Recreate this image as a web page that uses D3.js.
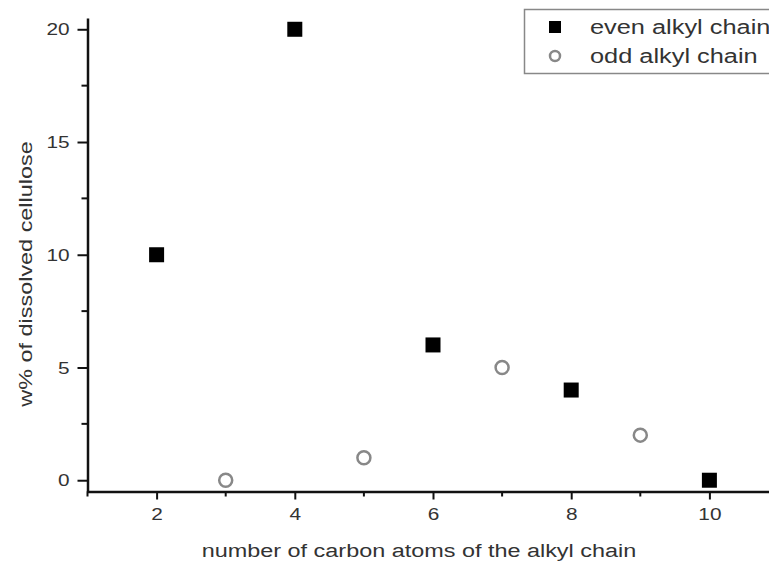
<!DOCTYPE html>
<html>
<head>
<meta charset="utf-8">
<script src="https://cdn.jsdelivr.net/npm/d3@7"></script>
<style>
  body { margin: 0; background: #fff; }
  text { font-family: "Liberation Sans", Arial, sans-serif; fill: #333; }
</style>
</head>
<body>
<div id="chart"></div>
<script>
// data
var evenCarbons = [2, 4, 6, 8, 10];
var evenValues = [10, 20, 6, 4, 0];
var oddCarbons = [3, 5, 7, 9];
var oddValues = [0, 1, 5, 2];
var xTicks = [2, 4, 6, 8, 10];
var yTicks = [0, 5, 10, 15, 20];
var legendLabels = ["even alkyl chain", "odd alkyl chain"];

var width = 769, height = 563;

// the scanned figure has its lettering a bit wide, so stretch glyphs
function stretch(sel, k) {
  sel.each(function() {
    var w = this.getComputedTextLength();
    d3.select(this)
      .attr("textLength", w * k)
      .attr("lengthAdjust", "spacingAndGlyphs");
  });
}

var svg = d3.select("#chart")
  .append("svg")
  .attr("width", width)
  .attr("height", height);

// x runs from 1 to 11, right end gets clipped by the picture
var x = d3.scaleLinear().domain([1, 11]).range([87.5, 778.5]);
var y = d3.scaleLinear().domain([-0.5, 20.5]).range([491.5, 18]);

// minor ticks
var xMinor = d3.range(1, 12, 1).filter(d => xTicks.indexOf(d) < 0);
var yMinor = d3.range(0, 21, 2.5).filter(d => yTicks.indexOf(d) < 0);

svg.append("g")
  .selectAll("line")
  .data(xMinor)
  .join("line")
  .attr("x1", d => x(d)).attr("x2", d => x(d))
  .attr("y1", y(-0.5)).attr("y2", y(-0.5) + 5)
  .attr("stroke", "#111").attr("stroke-width", 2);

svg.append("g")
  .selectAll("line")
  .data(yMinor)
  .join("line")
  .attr("y1", d => y(d)).attr("y2", d => y(d))
  .attr("x1", x(1)).attr("x2", x(1) - 6)
  .attr("stroke", "#111").attr("stroke-width", 2);

// axes
var xAxis = svg.append("g")
  .attr("transform", "translate(0," + y(-0.5) + ")")
  .call(d3.axisBottom(x).tickValues(xTicks).tickSize(8).tickPadding(9).tickSizeOuter(0));

var yAxis = svg.append("g")
  .attr("transform", "translate(" + x(1) + ",0)")
  .call(d3.axisLeft(y).tickValues(yTicks).tickSize(10).tickPadding(8).tickSizeOuter(0));

[xAxis, yAxis].forEach(function(g) {
  g.select(".domain").attr("stroke", "#111").attr("stroke-width", 2.5);
  g.selectAll(".tick line").attr("stroke", "#111").attr("stroke-width", 2);
  g.selectAll(".tick text")
    .attr("fill", "#333")
    .style("font-family", '"Liberation Sans", Arial, sans-serif')
    .style("font-size", "16px")
    .call(stretch, 1.3);
});
yAxis.selectAll(".tick text").attr("dy", "0.35em");

// axis titles
svg.append("text")
  .attr("x", 419)
  .attr("y", 557)
  .attr("text-anchor", "middle")
  .style("font-size", "18px")
  .text("number of carbon atoms of the alkyl chain")
  .call(stretch, 1.3);

svg.append("text")
  .attr("transform", "translate(32,274) rotate(-90)")
  .attr("text-anchor", "middle")
  .style("font-size", "18px")
  .text("w% of dissolved cellulose")
  .call(stretch, 1.3);

// points
var sq = 15;
svg.append("g")
  .selectAll("rect")
  .data(evenCarbons)
  .join("rect")
  .attr("x", (d) => x(d) - sq / 2)
  .attr("y", (d, i) => y(evenValues[i]) - sq / 2)
  .attr("width", sq)
  .attr("height", sq)
  .attr("fill", "#000");

svg.append("g")
  .selectAll("circle")
  .data(oddCarbons)
  .join("circle")
  .attr("cx", (d) => x(d))
  .attr("cy", (d, i) => y(oddValues[i]))
  .attr("r", 6.5)
  .attr("fill", "none")
  .attr("stroke", "#888")
  .attr("stroke-width", 2.5);

// legend
var legend = svg.append("g");
legend.append("rect")
  .attr("x", 524.5).attr("y", 9.5)
  .attr("width", 260).attr("height", 64)
  .attr("fill", "#fff")
  .attr("stroke", "#888")
  .attr("stroke-width", 1.5);

legend.append("rect")
  .attr("x", 555 - 6).attr("y", 27 - 6)
  .attr("width", 12).attr("height", 12)
  .attr("fill", "#000");
legend.append("circle")
  .attr("cx", 555).attr("cy", 56)
  .attr("r", 5)
  .attr("fill", "none")
  .attr("stroke", "#888")
  .attr("stroke-width", 2.5);

legend.selectAll("text")
  .data(legendLabels)
  .join("text")
  .attr("x", 590)
  .attr("y", (d, i) => 27 + i * 29)
  .attr("dy", "0.35em")
  .style("font-size", "19.5px")
  .text(d => d)
  .call(stretch, 1.3);
</script>
</body>
</html>
